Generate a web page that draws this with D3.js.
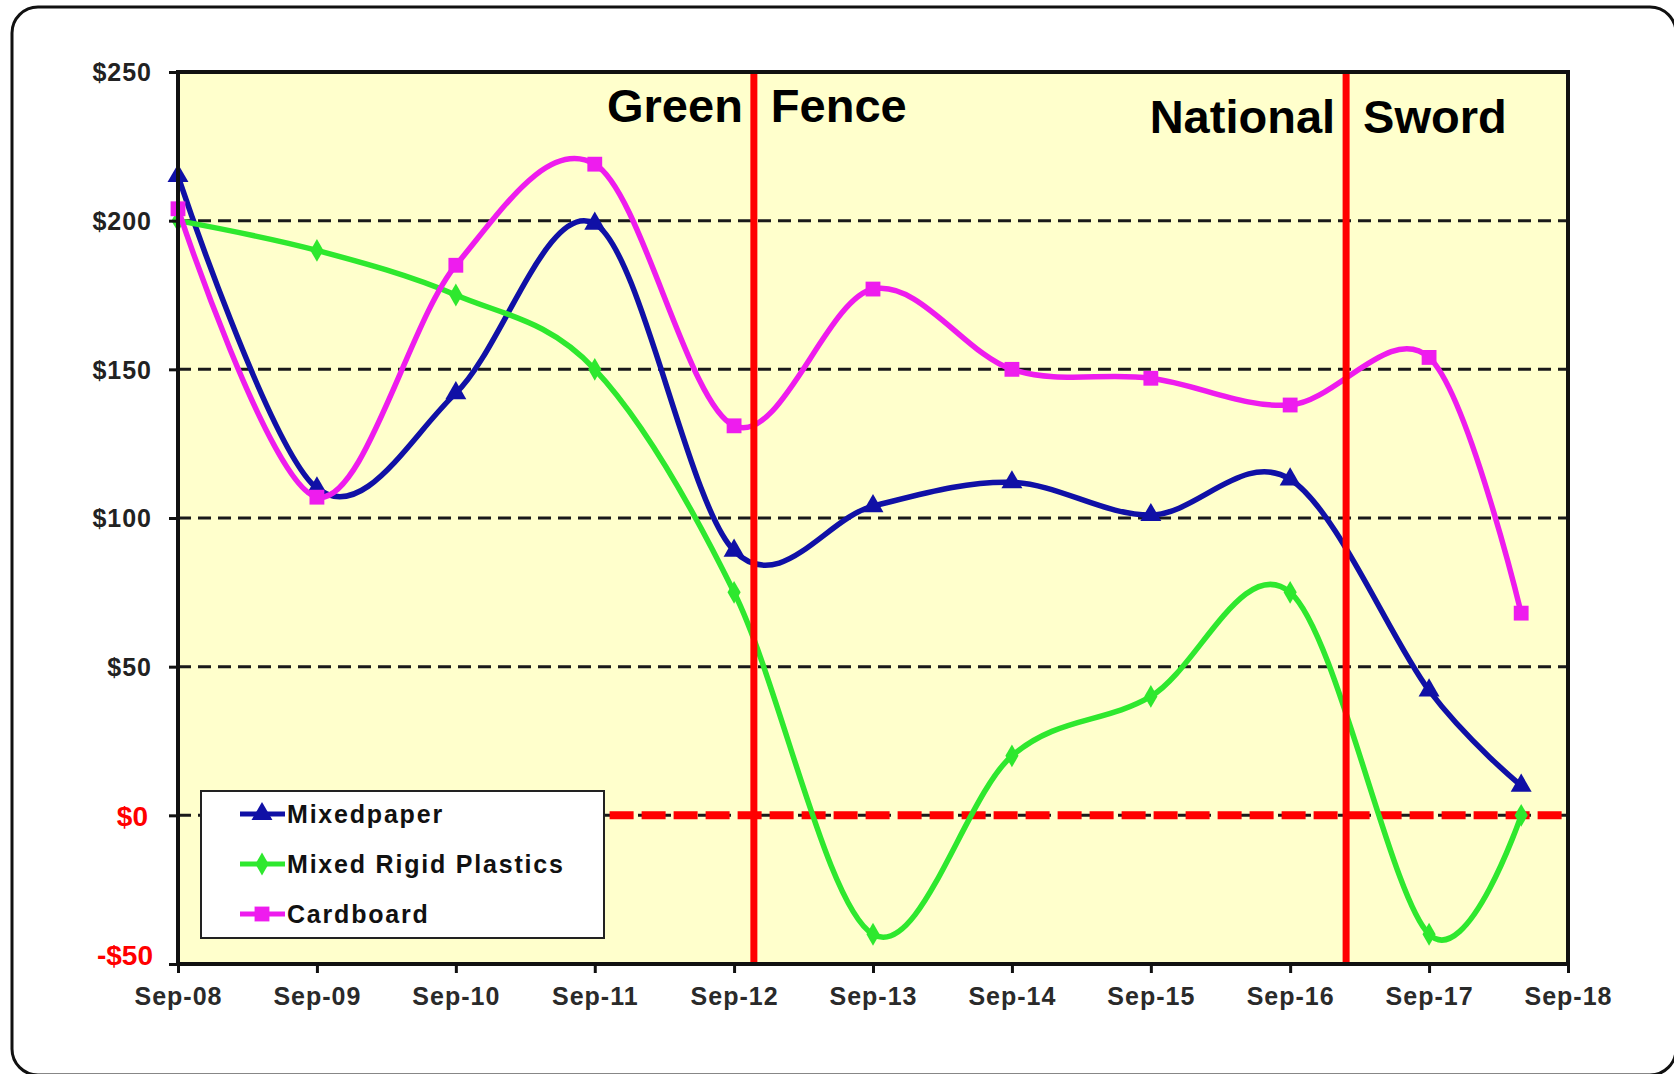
<!DOCTYPE html>
<html>
<head>
<meta charset="utf-8">
<script src="https://cdn.jsdelivr.net/npm/d3@7"></script>
<style>
  body { margin: 0; background: #fff; }
  text { font-family: "Liberation Sans", Arial, sans-serif; font-weight: bold; }
</style>
</head>
<body>
<div id="wrapper"></div>
<script>
// data
const months = ['2008-09', '2009-09', '2010-09', '2011-09', '2012-09', '2013-09',
                '2014-09', '2015-09', '2016-09', '2017-09', '2018-05'];
const mixedPaper = [215, 110, 142, 199, 89, 104, 112, 101, 113, 42, 10];
const mixedRigidPlastics = [200, 190, 175, 150, 75, -40, 20, 40, 75, -40, 0];
const cardboard = [204, 107, 185, 219, 131, 177, 150, 147, 138, 154, 68];

const seriesNames = ['Mixedpaper', 'Mixed Rigid Plastics', 'Cardboard'];
const yTicks = [-50, 0, 50, 100, 150, 200, 250];
const gridValues = [0, 50, 100, 150, 200];
const xDomain = ['2008-09-01', '2018-09-01'];

const eventNames = [['Green', 'Fence'], ['National', 'Sword']];
const eventDates = ['2012-10-23', '2017-01-26'];
const zeroLineStart = '2011-10-10';

const parseMonth = d3.timeParse('%Y-%m');
const parseDay = d3.timeParse('%Y-%m-%d');

const series = [
    { name: seriesNames[0], values: mixedPaper, color: '#1010a6', symbol: d3.symbolTriangle, size: 190 },
    { name: seriesNames[1], values: mixedRigidPlastics, color: '#2ee82e', symbol: d3.symbolDiamond, size: 150 },
    { name: seriesNames[2], values: cardboard, color: '#ee1cee', symbol: d3.symbolSquare, size: 220 }
];

const width = 1674;
const height = 1074;
const margin = { top: 72, right: 106, bottom: 110, left: 178 };
const boundedWidth = width - margin.left - margin.right;
const boundedHeight = height - margin.top - margin.bottom;

const svg = d3.select('#wrapper')
    .append('svg')
    .attr('width', width)
    .attr('height', height);

// outer rounded frame
svg.append('rect')
    .attr('x', 12)
    .attr('y', 7)
    .attr('width', 1664)
    .attr('height', 1068)
    .attr('rx', 26)
    .attr('fill', '#fff')
    .attr('stroke', '#111')
    .attr('stroke-width', 3);

const bounds = svg.append('g')
    .attr('transform', `translate(${margin.left},${margin.top})`);

const xScale = d3.scaleTime()
    .domain(xDomain.map(parseDay))
    .range([0, boundedWidth]);

const yScale = d3.scaleLinear()
    .domain([-50, 250])
    .range([boundedHeight, 0]);

bounds.append('rect')
    .attr('width', boundedWidth)
    .attr('height', boundedHeight)
    .attr('fill', '#ffffcc');

// dashed gridlines
bounds.selectAll('.grid')
    .data(gridValues)
    .enter()
    .append('line')
    .attr('x1', 0)
    .attr('x2', boundedWidth)
    .attr('y1', d => yScale(d))
    .attr('y2', d => yScale(d))
    .attr('stroke', '#1a1a1a')
    .attr('stroke-width', 3)
    .attr('stroke-dasharray', '13,7');

// red dashed zero line
bounds.append('line')
    .attr('x1', xScale(parseDay(zeroLineStart)))
    .attr('x2', boundedWidth - 3)
    .attr('y1', yScale(0))
    .attr('y2', yScale(0))
    .attr('stroke', '#ff0000')
    .attr('stroke-width', 8)
    .attr('stroke-dasharray', '24,8');

// series lines and markers
const lineGenerator = d3.line()
    .x(d => xScale(d.date))
    .y(d => yScale(d.value))
    .curve(d3.curveCardinal.tension(0));

series.forEach(s => {
    const points = s.values.map((v, i) => ({ date: parseMonth(months[i]), value: v }));

    bounds.append('path')
        .datum(points)
        .attr('d', lineGenerator)
        .attr('fill', 'none')
        .attr('stroke', s.color)
        .attr('stroke-width', 5.5);

    bounds.selectAll(null)
        .data(points)
        .enter()
        .append('path')
        .attr('d', d3.symbol(s.symbol, s.size))
        .attr('transform', d => `translate(${xScale(d.date)},${yScale(d.value)})`)
        .attr('fill', s.color);
});

// event lines and labels
eventDates.forEach((e, i) => {
    const x = xScale(parseDay(e));
    bounds.append('line')
        .attr('x1', x)
        .attr('x2', x)
        .attr('y1', 0)
        .attr('y2', boundedHeight)
        .attr('stroke', '#ff0000')
        .attr('stroke-width', 7);

    const baseline = i === 0 ? 50 : 61;
    bounds.append('text')
        .attr('x', x - 11)
        .attr('y', baseline)
        .attr('text-anchor', 'end')
        .attr('fill', '#000')
        .style('font-size', '47px')
        .text(eventNames[i][0]);
    bounds.append('text')
        .attr('x', x + 17)
        .attr('y', baseline)
        .attr('text-anchor', 'start')
        .attr('fill', '#000')
        .style('font-size', '47px')
        .text(eventNames[i][1]);
});

// plot frame
bounds.append('rect')
    .attr('width', boundedWidth)
    .attr('height', boundedHeight)
    .attr('fill', 'none')
    .attr('stroke', '#111')
    .attr('stroke-width', 4);

// axes
const yAxis = bounds.append('g')
    .call(d3.axisLeft(yScale)
        .tickValues(yTicks)
        .tickSize(9)
        .tickPadding(18)
        .tickFormat(d => d < 0 ? `-$${-d}` : `$${d}`));

yAxis.select('.domain').remove();
yAxis.selectAll('.tick line')
    .attr('stroke', '#111')
    .attr('stroke-width', 3);
yAxis.selectAll('.tick text')
    .attr('fill', d => d <= 0 ? '#ff0000' : '#222')
    .attr('dy', d => d === -50 ? '0.0em' : '0.35em')
    .attr('x', d => d === 0 ? -30 : d < 0 ? -25 : -26)
    .style('font-size', d => d <= 0 ? '28px' : '25px')
    .style('letter-spacing', d => d <= 0 ? '0px' : '1px');

const xAxis = bounds.append('g')
    .attr('transform', `translate(0,${boundedHeight})`)
    .call(d3.axisBottom(xScale)
        .tickValues(d3.range(2008, 2019).map(y => new Date(y, 8, 1)))
        .tickSize(9)
        .tickPadding(14)
        .tickFormat(d3.timeFormat('%b-%y')));

xAxis.select('.domain').remove();
xAxis.selectAll('.tick line')
    .attr('stroke', '#111')
    .attr('stroke-width', 3);
xAxis.selectAll('.tick text')
    .attr('fill', '#2a2a2a')
    .style('font-size', '25px')
    .style('letter-spacing', '1px');

// legend
const legend = svg.append('g')
    .attr('transform', 'translate(201,791)');

legend.append('rect')
    .attr('width', 403)
    .attr('height', 147)
    .attr('fill', '#fff')
    .attr('stroke', '#222')
    .attr('stroke-width', 2);

const legendItems = legend.selectAll('.item')
    .data(series)
    .enter()
    .append('g')
    .attr('transform', (d, i) => `translate(0,${23 + i * 50})`);

legendItems.append('line')
    .attr('x1', 39)
    .attr('x2', 84)
    .attr('stroke', d => d.color)
    .attr('stroke-width', 5);

legendItems.append('path')
    .attr('d', d => d3.symbol(d.symbol, d.size)())
    .attr('transform', 'translate(61,0)')
    .attr('fill', d => d.color);

legendItems.append('text')
    .attr('x', 86)
    .attr('y', 9)
    .attr('fill', '#111')
    .style('font-size', '25px')
    .style('letter-spacing', '1.8px')
    .text(d => d.name);
</script>
</body>
</html>
